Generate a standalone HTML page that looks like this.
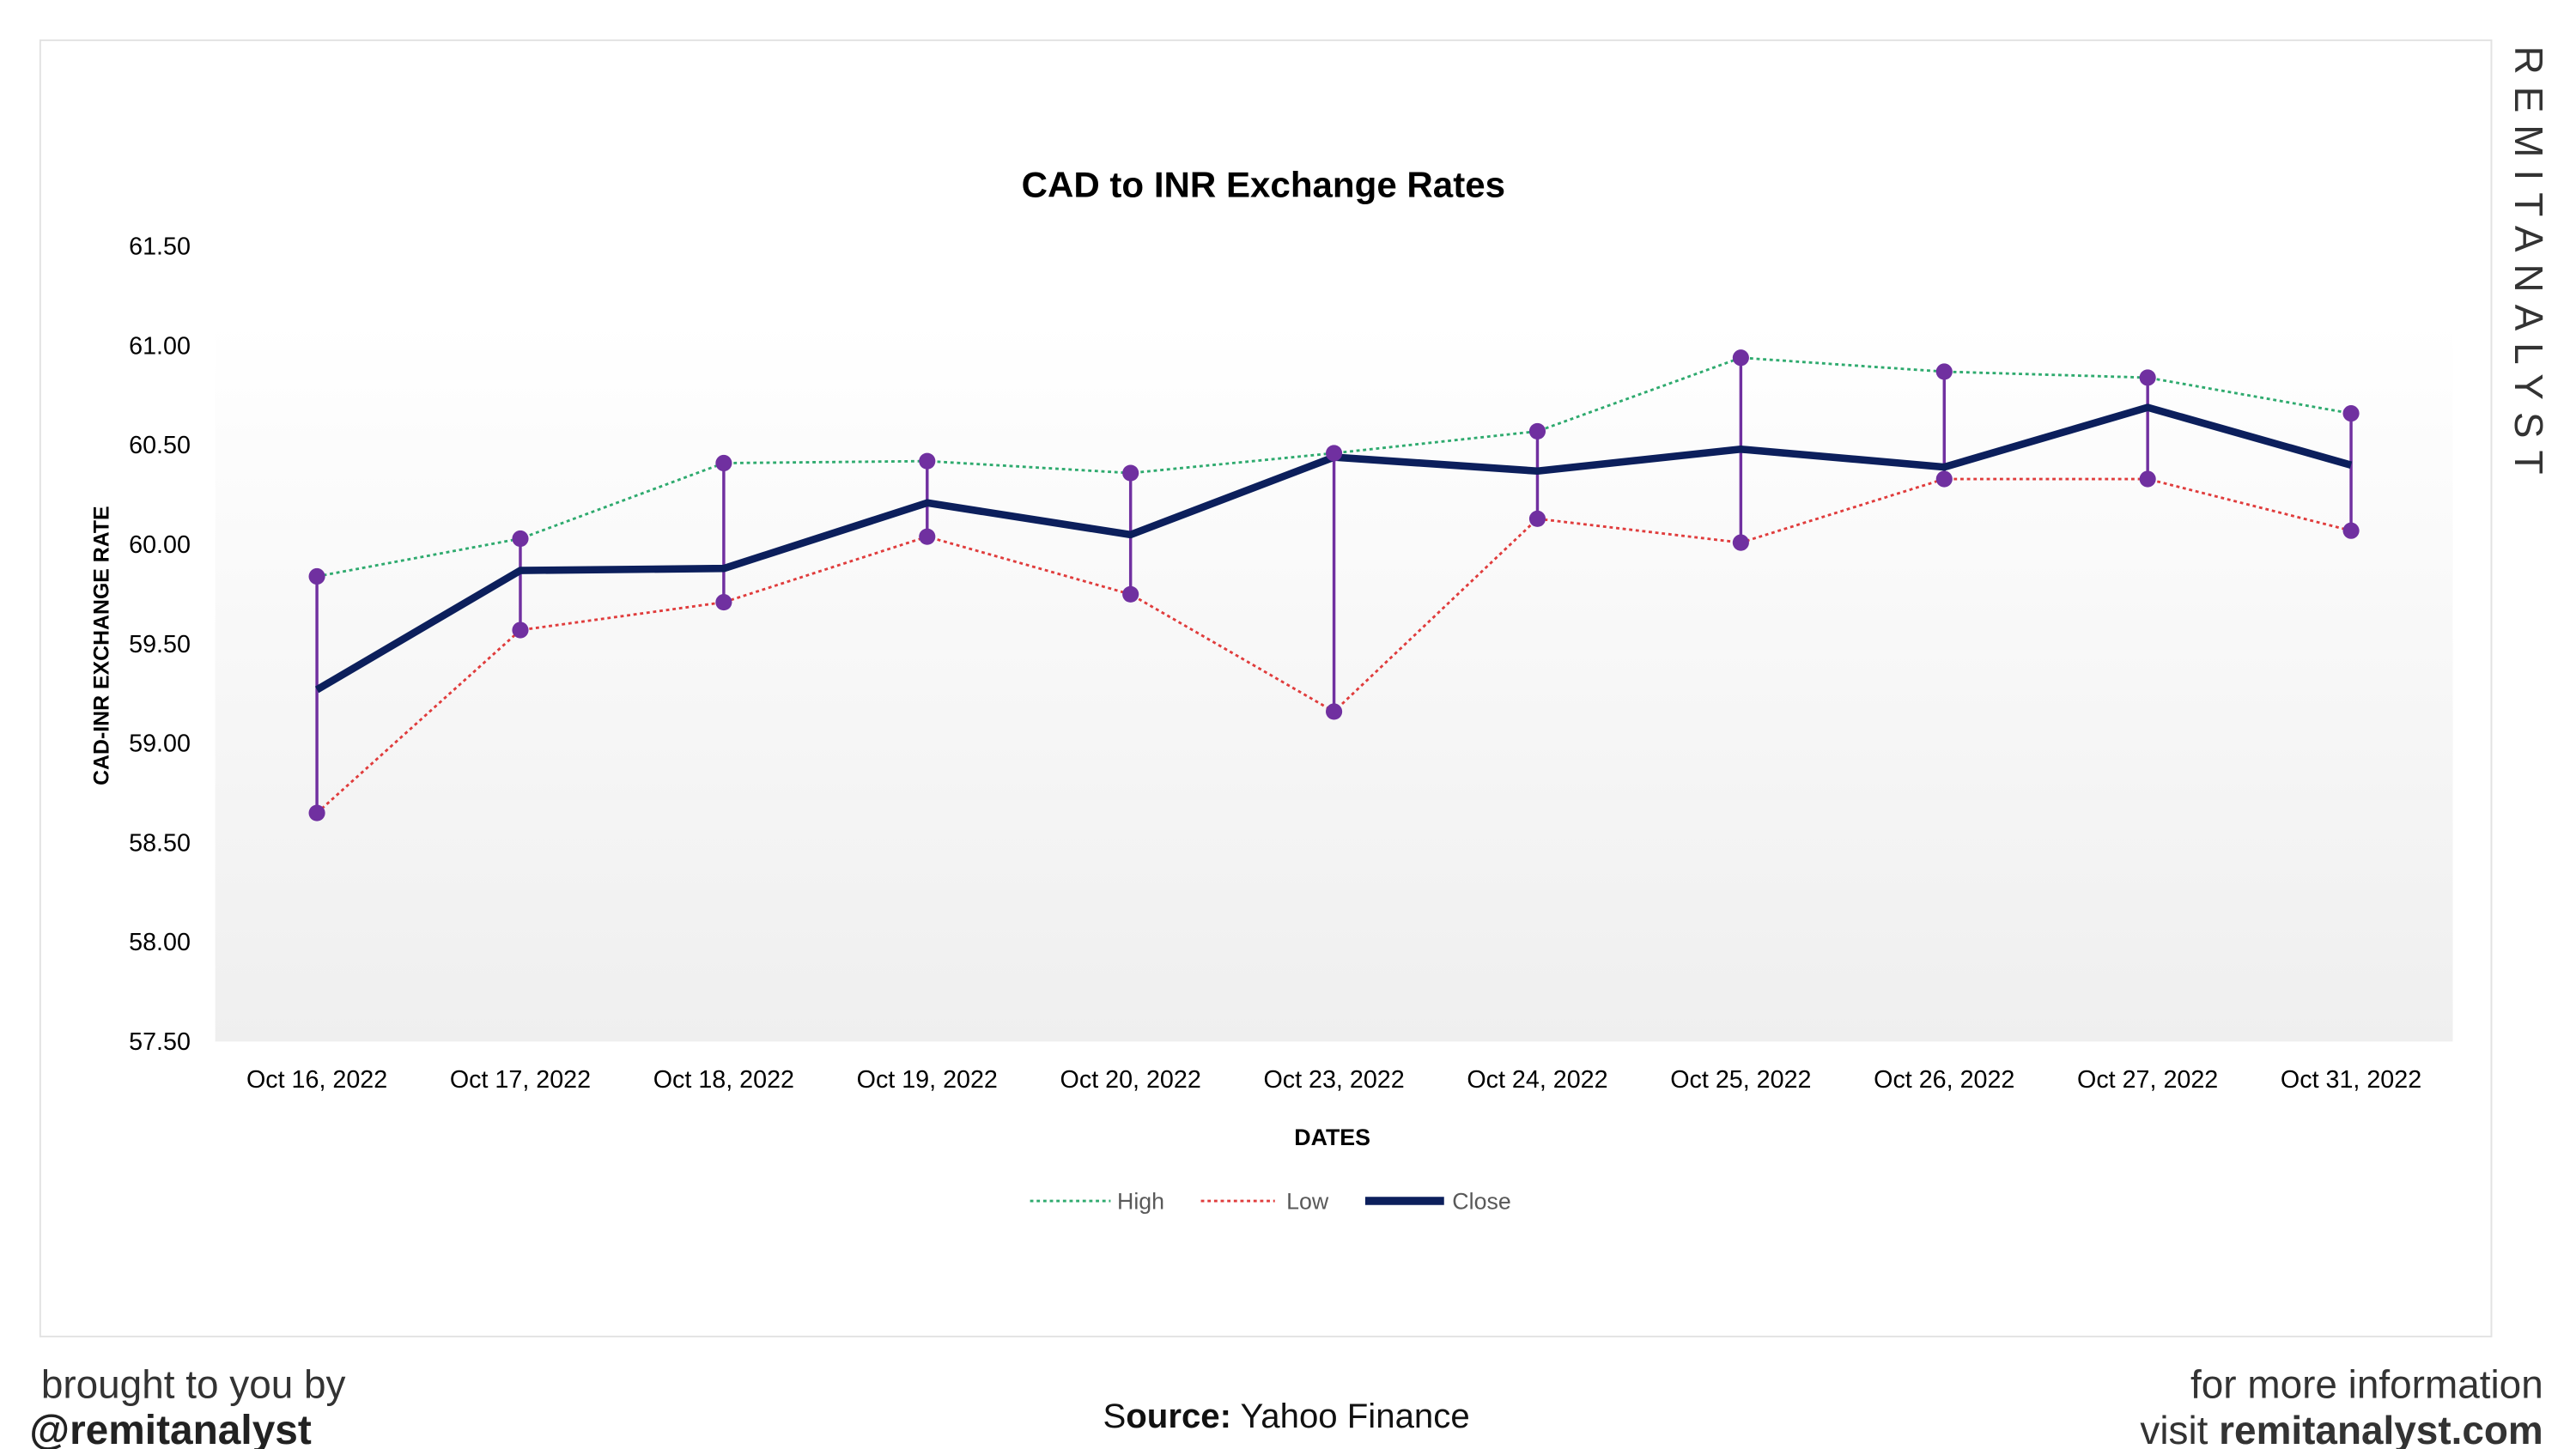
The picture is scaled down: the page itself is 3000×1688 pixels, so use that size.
<!DOCTYPE html>
<html><head><meta charset="utf-8">
<style>
html,body{margin:0;padding:0;background:#fff;}
svg{display:block;}
text{font-family:"Liberation Sans",sans-serif;}
</style></head>
<body>
<svg id="chart" width="3000" height="1688" viewBox="0 0 1568 882" preserveAspectRatio="none" xmlns="http://www.w3.org/2000/svg">
<defs>
<linearGradient id="bg" x1="0" y1="0" x2="0" y2="1">
<stop offset="0" stop-color="#ffffff"/><stop offset="1" stop-color="#efefef"/>
</linearGradient>
</defs>
<rect x="24.5" y="24.5" width="1492" height="789" fill="#fff" stroke="#e2e2e2"/>
<rect x="131" y="195" width="1362" height="439" fill="url(#bg)"/>
<text x="769" y="120" text-anchor="middle" font-size="22" font-weight="bold" fill="#000">CAD to INR Exchange Rates</text>
<g id="yticks"></g>
<g id="xticks"></g>
<text x="0" y="0" transform="translate(66,393) rotate(-90)" text-anchor="middle" font-size="13" font-weight="bold" fill="#000">CAD-INR EXCHANGE RATE</text>
<text x="811" y="697" text-anchor="middle" font-size="14" font-weight="bold" fill="#000">DATES</text>
<g id="series"></g>
<g>
<g><line x1="627" y1="731" x2="676" y2="731" stroke="#2eaa6e" stroke-width="1.5" stroke-dasharray="2,2"/><text x="680" y="736" font-size="14" fill="#595959">High</text></g>
<g><line x1="731" y1="731" x2="776" y2="731" stroke="#e03c3c" stroke-width="1.5" stroke-dasharray="2,2"/><text x="783" y="736" font-size="14" fill="#595959">Low</text></g>
<g><line x1="831" y1="731" x2="879" y2="731" stroke="#0c1f5c" stroke-width="5"/><text x="884" y="736" font-size="14" fill="#595959">Close</text></g>
</g>
<text x="0" y="0" transform="translate(1531,28) rotate(90)" font-size="24" letter-spacing="7.3" fill="#333">REMITANALYST</text>
<text x="25" y="851" font-size="24" fill="#333">brought to you by</text>
<text x="18" y="879" font-size="25" font-weight="bold" fill="#222">@remitanalyst</text>
<text x="783" y="869" text-anchor="middle" font-size="21" fill="#111">S<tspan font-weight="bold">ource:</tspan> Yahoo Finance</text>
<text x="1548" y="851" text-anchor="end" font-size="24" fill="#333">for more information</text>
<text x="1548" y="879" text-anchor="end" font-size="24" fill="#333">visit <tspan font-weight="bold">remitanalyst.com</tspan></text>
</svg>
<script>
const categories = ["Oct 16, 2022","Oct 17, 2022","Oct 18, 2022","Oct 19, 2022","Oct 20, 2022","Oct 23, 2022","Oct 24, 2022","Oct 25, 2022","Oct 26, 2022","Oct 27, 2022","Oct 31, 2022"];
const highValues = [59.84,60.03,60.41,60.42,60.36,60.46,60.57,60.94,60.87,60.84,60.66];
const lowValues = [58.65,59.57,59.71,60.04,59.75,59.16,60.13,60.01,60.33,60.33,60.07];
const closeValues = [59.27,59.87,59.88,60.21,60.05,60.44,60.37,60.48,60.39,60.69,60.40];
const yTickValues = [57.5,58.0,58.5,59.0,59.5,60.0,60.5,61.0,61.5];
const yTickLabels = ["57.50","58.00","58.50","59.00","59.50","60.00","60.50","61.00","61.50"];

const NS = "http://www.w3.org/2000/svg";
const plotL = 131, plotR = 1493, yTop = 150, yBot = 634, yMin = 57.5, yMax = 61.5;
function xPos(i){ const w=(plotR-plotL)/categories.length; return plotL + w*(i+0.5); }
function yPos(v){ return yBot - (v-yMin)/(yMax-yMin)*(yBot-yTop); }
function mk(tag, attrs, parent){ const e=document.createElementNS(NS,tag); for(const k in attrs) e.setAttribute(k,attrs[k]); parent.appendChild(e); return e; }

const yt = document.getElementById('yticks');
yTickValues.forEach((v,i)=>{
  const t = mk('text',{x:116,y:yPos(v)+5,'text-anchor':'end','font-size':15,fill:'#000'},yt);
  t.textContent = yTickLabels[i];
  
  
});
const xt = document.getElementById('xticks');
categories.forEach((c,i)=>{
  const t = mk('text',{x:xPos(i),y:662,'text-anchor':'middle','font-size':15,fill:'#000'},xt);
  t.textContent = c;
  
  
});

const s = document.getElementById('series');
function poly(vals){ return vals.map((v,i)=>xPos(i)+','+yPos(v)).join(' '); }
const hl = mk('polyline',{points:poly(highValues),fill:'none',stroke:'#2eaa6e','stroke-width':1.5,'stroke-dasharray':'2,2'},s);


const ll = mk('polyline',{points:poly(lowValues),fill:'none',stroke:'#e03c3c','stroke-width':1.5,'stroke-dasharray':'2,2'},s);


categories.forEach((c,i)=>{
  const d = mk('line',{x1:xPos(i),x2:xPos(i),y1:yPos(highValues[i]),y2:yPos(lowValues[i]),stroke:'#7030a0','stroke-width':1.8},s);
  
  
});
const cl = mk('polyline',{points:poly(closeValues),fill:'none',stroke:'#0c1f5c','stroke-width':4.5,'stroke-linejoin':'round'},s);


categories.forEach((c,i)=>{
  [highValues[i],lowValues[i]].forEach(v=>{
    const p = mk('circle',{cx:xPos(i),cy:yPos(v),r:5,fill:'#7030a0'},s);
    
    
  });
});
</script>
</body></html>
